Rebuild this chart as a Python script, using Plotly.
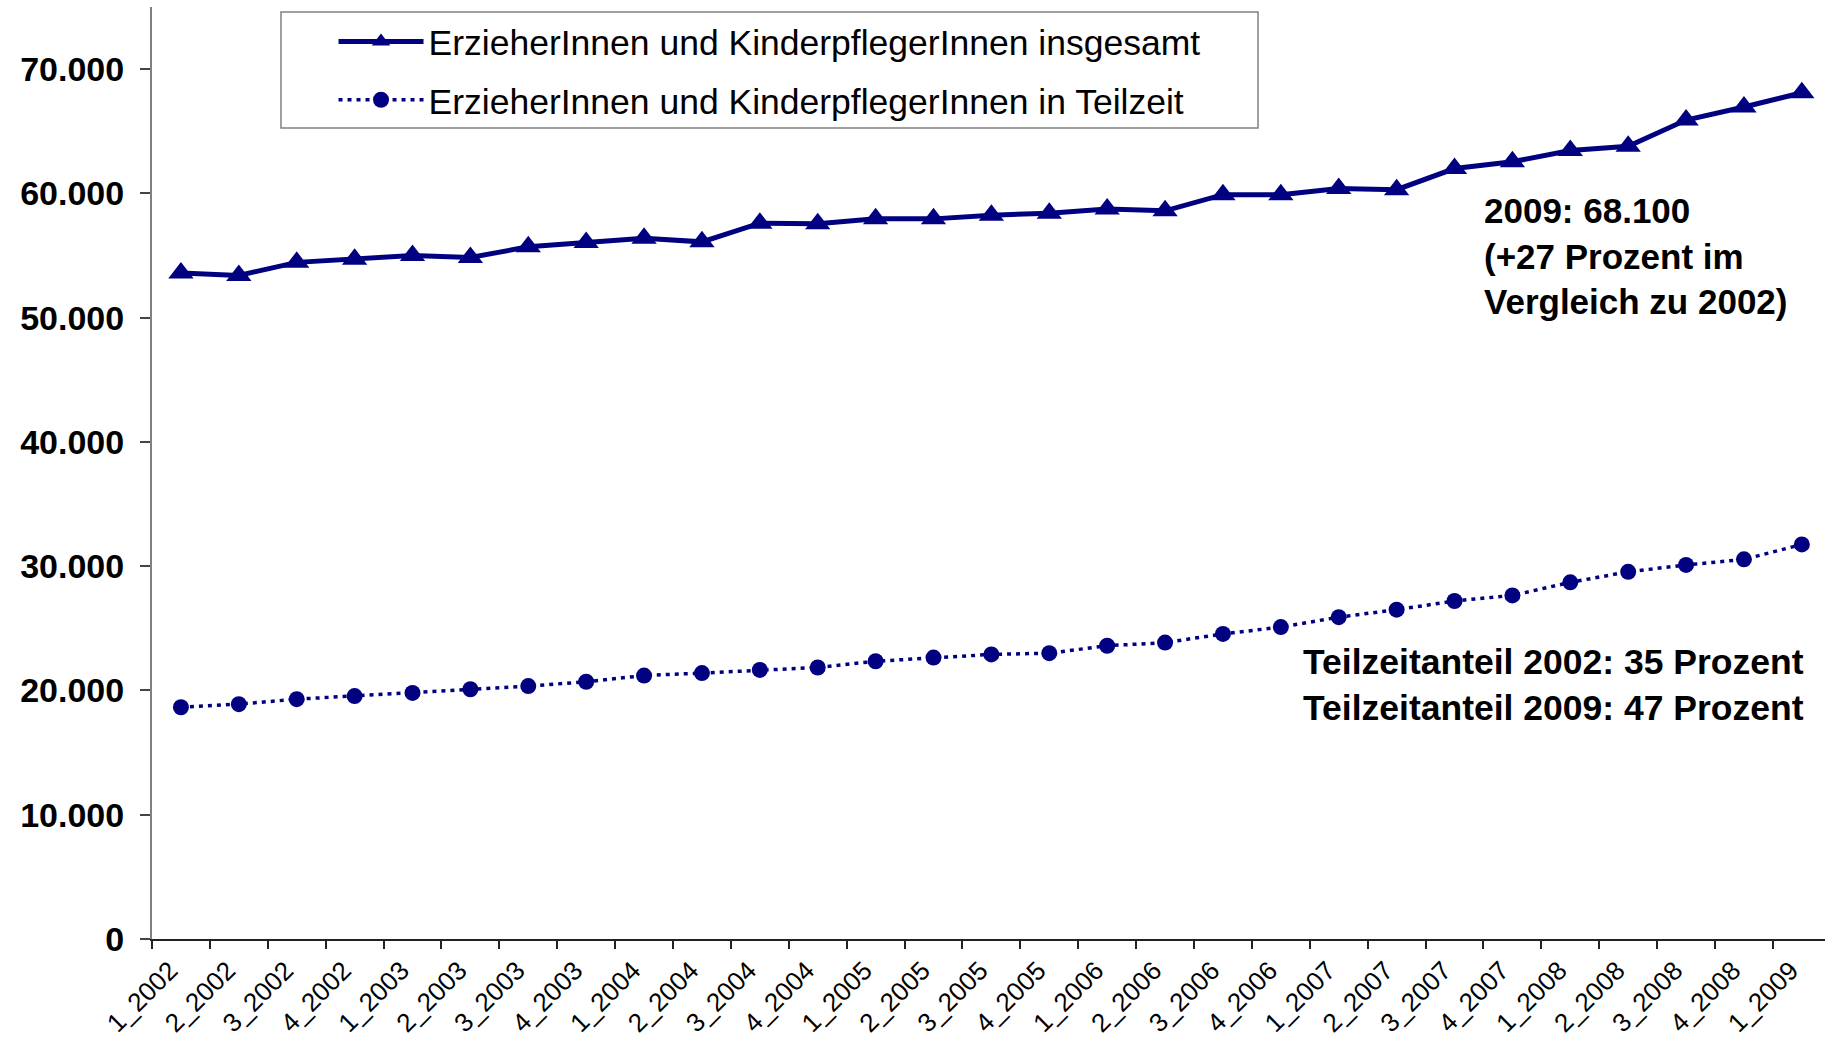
import plotly.graph_objects as go

quarters = ["1_2002", "2_2002", "3_2002", "4_2002",
            "1_2003", "2_2003", "3_2003", "4_2003",
            "1_2004", "2_2004", "3_2004", "4_2004",
            "1_2005", "2_2005", "3_2005", "4_2005",
            "1_2006", "2_2006", "3_2006", "4_2006",
            "1_2007", "2_2007", "3_2007", "4_2007",
            "1_2008", "2_2008", "3_2008", "4_2008",
            "1_2009"]

insgesamt = [53600, 53400, 54450, 54700, 55000, 54850, 55700, 56050,
             56400, 56100, 57600, 57550, 57950, 57950, 58250, 58400,
             58750, 58600, 59900, 59900, 60400, 60300, 62000, 62550,
             63450, 63800, 65900, 66950, 68100]

teilzeit = [18650, 18900, 19300, 19550, 19800, 20100, 20350, 20700,
            21200, 21400, 21650, 21850, 22350, 22650, 22900, 23000,
            23600, 23850, 24550, 25100, 25900, 26500, 27200, 27650,
            28700, 29550, 30100, 30550, 31750]

name_ins = "ErzieherInnen und KinderpflegerInnen insgesamt"
name_teil = "ErzieherInnen und KinderpflegerInnen in Teilzeit"

y_ticks = [0, 10000, 20000, 30000, 40000, 50000, 60000, 70000]

note_total = "2009: 68.100<br>(+27 Prozent im<br>Vergleich zu 2002)"
note_part = "Teilzeitanteil 2002: 35 Prozent<br>Teilzeitanteil 2009: 47 Prozent"

NAVY = "#000080"
FONT = "Liberation Sans, Arial, sans-serif"

fig = go.Figure()
fig.add_trace(go.Scatter(
    x=quarters, y=insgesamt, name=name_ins, mode="lines+markers",
    line=dict(color=NAVY, width=5),
    marker=dict(symbol="triangle-up", size=22, color=NAVY),
    legendgroup="a",
))
fig.add_trace(go.Scatter(
    x=quarters, y=teilzeit, name=name_teil, mode="lines+markers",
    line=dict(color=NAVY, width=3.5, dash="4px,5px"),
    marker=dict(symbol="circle", size=16, color=NAVY),
    legendgroup="b",
))

# legend frame (wider padding than plotly's own legend border)
fig.add_shape(type="rect", xref="paper", yref="paper",
              x0=0.0771, x1=0.6611, y0=0.8702, y1=0.9946,
              line=dict(color="#808080", width=1.5), fillcolor="white",
              layer="above")

fig.update_layout(
    width=1825, height=1045,
    margin=dict(l=152, r=0, t=7, b=106),
    paper_bgcolor="white", plot_bgcolor="white",
    separators=",.",
    font=dict(family=FONT, color="black"),
    showlegend=True,
    legend=dict(
        x=0.1085, y=0.9946, xanchor="left", yanchor="top",
        bgcolor="rgba(0,0,0,0)", borderwidth=0,
        font=dict(size=35.5, family=FONT, color="black"),
        itemwidth=85, tracegroupgap=9, traceorder="grouped",
    ),
    xaxis=dict(
        type="category", range=[-0.5, 28.4],
        tickson="boundaries", ticks="outside", ticklen=8, tickwidth=1.5,
        tickcolor="#222", showline=True, linecolor="#222", linewidth=2,
        tickangle=-45, tickfont=dict(size=26, family=FONT, color="black"),
        ticklabelshift=-11, ticklabelstandoff=4,
        showgrid=False, zeroline=False,
    ),
    yaxis=dict(
        range=[0, 75000], tickvals=y_ticks, tickformat=",d",
        ticks="outside", ticklen=10, tickwidth=1.5, tickcolor="#444",
        showline=True, linecolor="#808080", linewidth=2,
        tickfont=dict(size=34, family=FONT, color="black", weight="bold"),
        ticklabelstandoff=9,
        showgrid=False, zeroline=False,
    ),
    annotations=[
        dict(text=note_total, xref="paper", yref="paper", x=0.795, y=0.805,
             xanchor="left", yanchor="top", align="left", showarrow=False,
             font=dict(size=35, family=FONT, color="black", weight="bold")),
        dict(text=note_part, xref="paper", yref="paper", x=0.6865, y=0.3205,
             xanchor="left", yanchor="top", align="left", showarrow=False,
             font=dict(size=35.5, family=FONT, color="black", weight="bold")),
    ],
)

fig.write_html("out.html",
               config={"displayModeBar": False},
               post_script="document.body.style.margin='0';document.body.style.overflow='hidden';")
